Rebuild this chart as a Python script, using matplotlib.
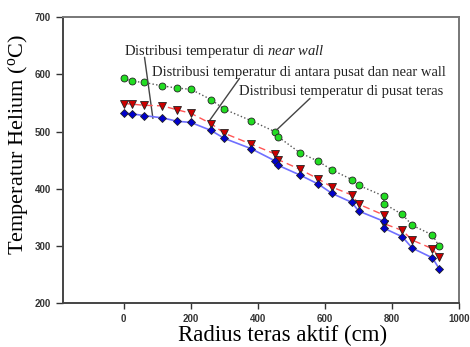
import matplotlib
matplotlib.use("Agg")
import matplotlib.pyplot as plt

# radius (cm) and helium temperature (C)
radius = [0, 25, 60, 115, 160, 200, 260, 300, 380, 450, 460, 525, 580, 620,
          680, 700, 775, 775, 830, 860, 920, 940]
temp_pusat = [532, 531, 528, 524, 518, 516, 502, 488, 470, 449, 441, 424, 408,
              392, 376, 361, 343, 331, 316, 296, 279, 260]
temp_antara = [549, 548, 546, 545, 538, 532, 514, 497, 478, 461, 451, 434, 417,
               403, 389, 373, 354, 339, 327, 310, 295, 280]
temp_near_wall = [593, 588, 586, 580, 576, 574, 556, 539, 519, 500, 491, 463,
                  448, 433, 416, 406, 387, 374, 355, 336, 319, 299]

yticks = [200, 300, 400, 500, 600, 700]
xticks = [0, 200, 400, 600, 800, 1000]

SERIF = ["Liberation Serif", "DejaVu Serif"]
plt.rcParams["mathtext.fontset"] = "custom"
plt.rcParams["mathtext.rm"] = "Liberation Serif"
plt.rcParams["mathtext.it"] = "Liberation Serif:italic"

fig = plt.figure(figsize=(4.70, 3.47), dpi=100)
ax = fig.add_axes([0.1347, 0.1268, 0.8425, 0.8234])

ax.plot(radius, temp_near_wall, linestyle=":", color="#555555", lw=1.0,
        marker="o", ms=5, mfc="#22dd22", mec="#222222", mew=0.6, zorder=3)
ax.plot(radius, temp_antara, linestyle=(0, (5, 3)), color="#ff5555", lw=1.0,
        marker="v", ms=6, mfc="#cc0000", mec="#222222", mew=0.6, zorder=4)
ax.plot(radius, temp_pusat, linestyle="-", color="#6f6fff", lw=1.2,
        marker="D", ms=4.5, mfc="#0000cc", mec="#222222", mew=0.6, zorder=5)

ax.set_xlim(-180, 1000)
ax.set_ylim(200, 700)
ax.set_xticks(xticks)
ax.set_yticks(yticks)
ax.tick_params(axis="both", direction="out", labelsize=7, labelcolor="#333333",
               color="#333333", width=1.0)
ax.tick_params(axis="y", length=5, pad=4)
ax.tick_params(axis="x", length=4, pad=4)
for lab in ax.get_xticklabels() + ax.get_yticklabels():
    lab.set_fontfamily("Liberation Sans")
    lab.set_fontweight("bold")

for side in ("left", "bottom"):
    ax.spines[side].set_color("#444444")
    ax.spines[side].set_linewidth(1.4)
for side in ("top", "right"):
    ax.spines[side].set_color("#777777")
    ax.spines[side].set_linewidth(1.4)

ax.set_ylabel(r"Temperatur Helium ($^{\mathrm{o}}$C)", family=SERIF,
              fontsize=16)
ax.yaxis.set_label_coords(-0.085, 0.553)
ax.set_xlabel("Radius teras aktif (cm)", family=SERIF, fontsize=16.5)
ax.xaxis.set_label_coords(0.553, -0.078)

txt_kw = dict(family=SERIF, fontsize=10.5, color="#222222", ha="left",
              va="center")
line_kw = dict(arrowstyle="-", color="#444444", lw=1.0, shrinkA=0, shrinkB=0)

ax.text(2, 640, "Distribusi temperatur di $\\it{near\\ wall}$", **txt_kw)
ax.annotate("", xy=(87, 523), xytext=(62, 630), arrowprops=line_kw)

ax.text(84, 603, "Distribusi temperatur di antara pusat dan near wall",
        **txt_kw)
ax.annotate("", xy=(253, 517), xytext=(345, 593), arrowprops=line_kw)

ax.text(345, 570, "Distribusi temperatur di pusat teras", **txt_kw)
ax.annotate("", xy=(456, 503), xytext=(555, 558), arrowprops=line_kw)

fig.savefig("out.png", dpi=100)
